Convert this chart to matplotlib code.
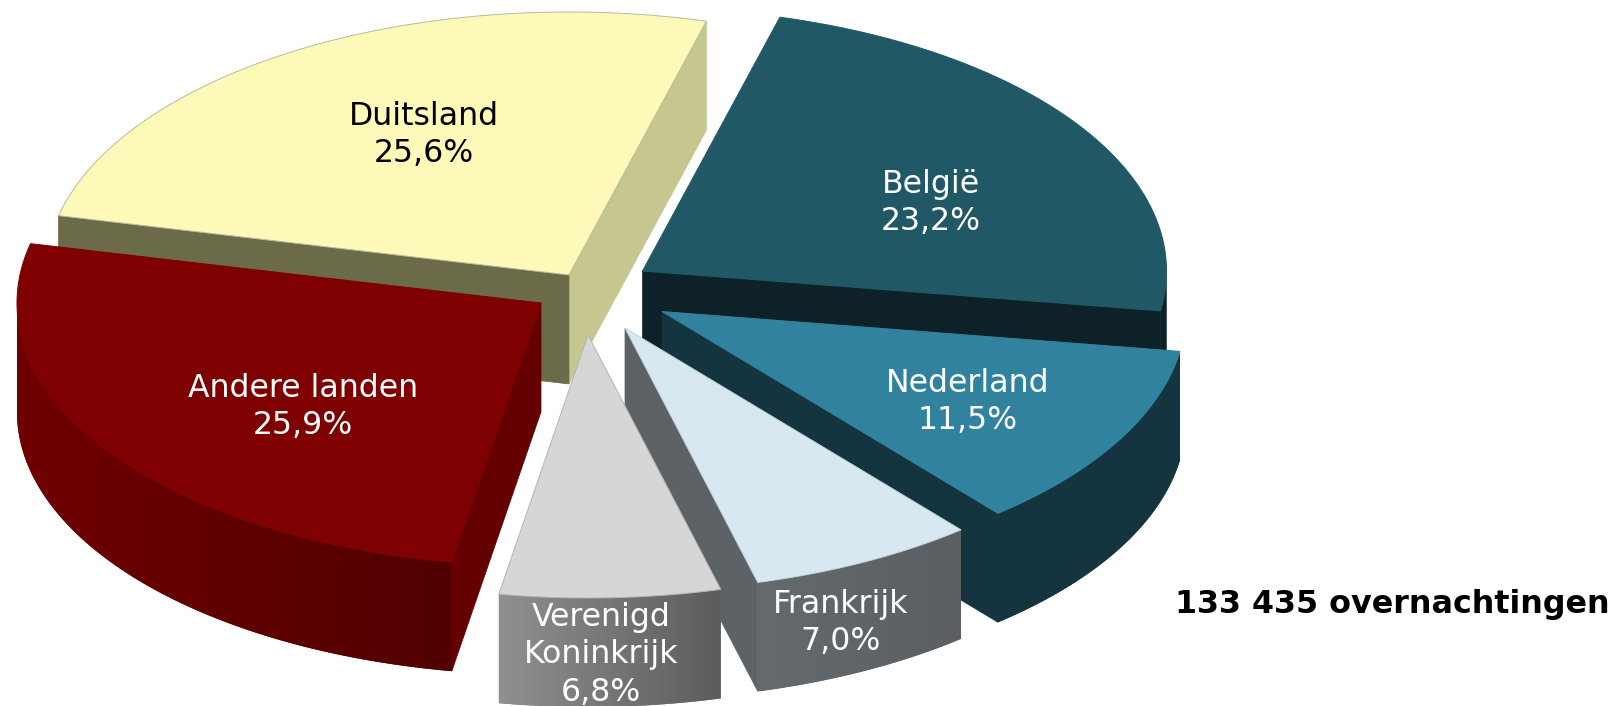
import numpy as np
import matplotlib
matplotlib.use("Agg")
import matplotlib.pyplot as plt
from matplotlib.patches import Polygon
from matplotlib.colors import to_rgb

landen = ["België", "Nederland", "Frankrijk", "Verenigd\nKoninkrijk", "Andere landen", "Duitsland"]
aandeel = [23.2, 11.5, 7.0, 6.8, 25.9, 25.6]
totaal = "133 435 overnachtingen"

# look of the pie, in pixels of the 1617x706 figure
RX = 524
RY = 263
DIEPTE = 109
START = 15.2  # degrees clockwise from the top

# top point of every slice (exploded pie)
punt_x = [642.5, 662, 625, 588, 541, 569]
punt_y = [271, 311.5, 328, 335, 303, 275]
label_x = [931, 968, 841, 601, 303, 424]
label_y = [203, 402, 623, 655, 407, 135]
label_kleur = ["white", "white", "white", "white", "white", "black"]

boven = ["#215866", "#31829f", "#d7e8f0", "#d6d6d6", "#7e0000", "#fdf9b8"]
rand = ["#215866", "#31829f", "#c4d4db", "#b4b4b4", "#7e0000", "#b9b9a0"]
# outer wall goes from links to rechts in colour, flat walls have their own colour
wand_links = ["#0e2128", "#14353f", "#646a6d", "#909090", "#700000", "#6b6b4a"]
wand_rechts = ["#0e2128", "#14353f", "#5a5f62", "#5c5c5c", "#500000", "#6b6b4a"]
wand_start = ["#0e2128", "#14353f", "#5c6265", "#777777", "#640000", "#6b6b4a"]
wand_eind = ["#0e2128", "#14353f", "#5c6265", "#777777", "#640000", "#c6c68f"]

# back slices first, the front ones paint over them
volgorde = [5, 0, 1, 4, 2, 3]

fig = plt.figure(figsize=(16.17, 7.06), dpi=100)
ax = fig.add_axes([0, 0, 1, 1])

grenzen = START + np.concatenate([[0], np.cumsum(aandeel)]) * 3.6


def muur(p, q, kleur, z):
    ax.add_patch(Polygon([p, q, (q[0], q[1] + DIEPTE), (p[0], p[1] + DIEPTE)],
                         closed=True, facecolor=kleur, edgecolor=kleur, linewidth=0.5, zorder=z))


for n, i in enumerate(volgorde):
    hoek = np.radians(np.linspace(grenzen[i], grenzen[i + 1], 200))
    x = punt_x[i] + RX * np.sin(hoek)
    y = punt_y[i] - RY * np.cos(hoek)
    top = (punt_x[i], punt_y[i])
    z = 2 + n

    # only walls running to the left face the viewer
    if x[-1] > top[0]:
        muur((x[-1], y[-1]), top, wand_eind[i], z)
    if top[0] > x[0]:
        muur(top, (x[0], y[0]), wand_start[i], z)

    zichtbaar = np.r_[np.diff(x) < 0, False] | np.r_[False, np.diff(x) < 0]
    if zichtbaar.any():
        xa = x[zichtbaar]
        ya = y[zichtbaar]
        omtrek = np.vstack([np.column_stack([xa, ya]),
                            np.column_stack([xa[::-1], ya[::-1] + DIEPTE])])
        c1 = np.array(to_rgb(wand_links[i]))
        c2 = np.array(to_rgb(wand_rechts[i]))
        ax.add_patch(Polygon(omtrek, closed=True, facecolor=(c1 + c2) / 2, edgecolor="none", zorder=z))
        verloop = np.linspace(c1, c2, 256)[None, :, :]
        im = ax.imshow(verloop, extent=(xa.min(), xa.max(), (ya + DIEPTE).max(), ya.min()),
                       aspect="auto", interpolation="bilinear", zorder=z)
        im.set_clip_path(Polygon(omtrek, closed=True, transform=ax.transData))

    vorm = np.column_stack([np.r_[top[0], x], np.r_[top[1], y]])
    ax.add_patch(Polygon(vorm, closed=True, facecolor=boven[i], edgecolor=rand[i],
                         linewidth=0.7, zorder=z))

for i in range(len(landen)):
    ax.text(label_x[i], label_y[i], landen[i] + "\n" + f"{aandeel[i]:.1f}%".replace(".", ","),
            color=label_kleur[i], fontsize=22.7, ha="center", va="center",
            linespacing=1.27, zorder=20)

ax.text(1175, 604, totaal, fontsize=22.9, fontweight="bold", color="black", va="center", zorder=20)

ax.set_xlim(0, 1617)
ax.set_ylim(706, 0)
ax.axis("off")

fig.savefig("out.png", dpi=100)
